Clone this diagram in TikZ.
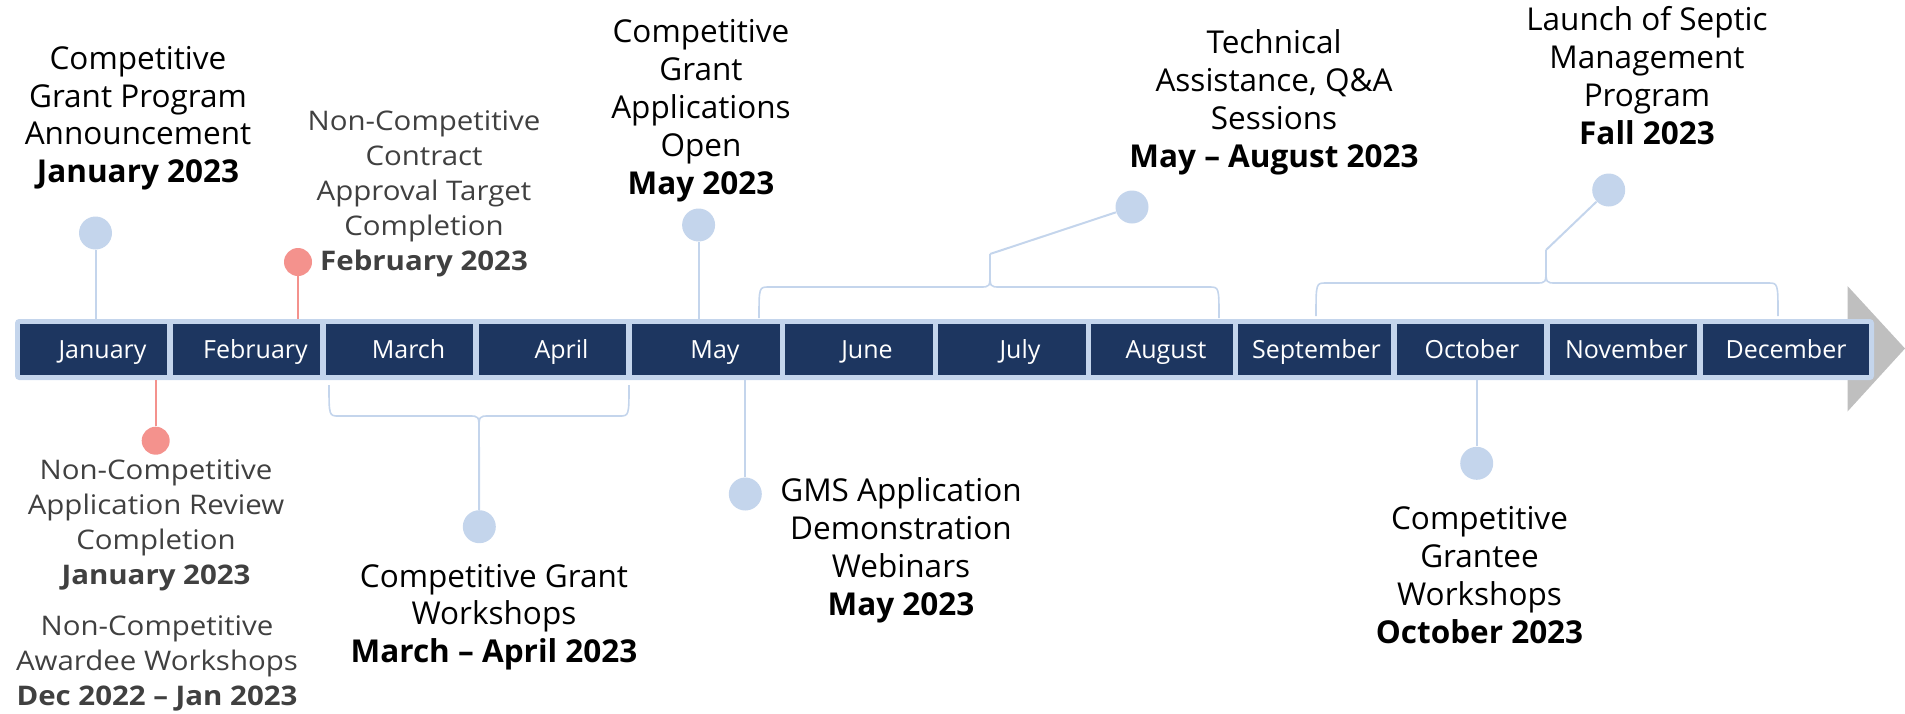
\documentclass[tikz,border=0pt]{standalone}
\usepackage{fontspec}
\setmainfont{Open Sans}
\newfontfamily\ncfont[FakeStretch=1.09]{Open Sans}
\definecolor{tlNavy}{HTML}{1D3660}
\definecolor{tlSky}{HTML}{C4D5EC}
\definecolor{tlCoral}{HTML}{F4928D}
\definecolor{tlGrey}{HTML}{BFBFBF}
\definecolor{tlInk}{HTML}{404040}
\usepackage{tikz}

\begin{document}
\begin{tikzpicture}[x=0.5pt, y=-0.5pt,
  month/.style={fill=tlNavy, text=white, inner sep=0pt, minimum height=25.5pt, text height=8.9pt, text depth=0pt, font=\fontsize{12.5}{15}\selectfont},
  evt/.style={align=center, anchor=base, inner sep=0pt, font=\fontsize{15.75}{18.9}\selectfont},
  ncevt/.style={evt, text=tlInk, font=\ncfont\fontsize{13.5}{17.5}\selectfont},
  dot/.style={circle, fill=tlSky, inner sep=0pt, minimum size=16.5pt},
  reddot/.style={dot, fill=tlCoral, minimum size=14pt},
  stem/.style={draw=tlSky, line width=1pt},
  redstem/.style={draw=tlCoral, line width=1pt},
  brace/.style={draw=tlSky, line width=0.8pt}]
\useasboundingbox (0,0) rectangle (1905,713);

% timeline bar
\fill[tlGrey] (1847.5,286) -- (1905,348.5) -- (1847.5,411.5) -- cycle;
\node[fill=tlSky, rounded corners=2pt, inner sep=0pt, minimum width=929.5pt, minimum height=30.5pt] (band) at (944.5,349.5) {};
\foreach \n/\m/\l/\r/\s in {jan/January/20/167/9, feb/February/173/320/9, mar/March/326/473/9, apr/April/479/626/9, may/May/632/780/9, jun/June/785/933/8, jul/July/938/1086/8, aug/August/1091/1233/4, sep/September/1238/1391/2, oct/October/1397/1544/1.5, nov/November/1550/1697/3, dec/December/1703/1869/0}
  \node[month, minimum width={(\r-\l)*0.5pt}] (\n) at ({(\l+\r)/2},349.5) {\hspace*{\s pt}\m};

% braces
\coordinate (ma-tip) at (479,447);
\coordinate (mayaug-tip) at (990,254);
\coordinate (fall-tip) at (1546,250);
\draw[brace] (759,318) .. controls (759,287) .. (769,287) -- (980,287) .. controls (990,287) .. (990,272) -- (mayaug-tip);
\draw[brace] (mayaug-tip) -- (990,272) .. controls (990,287) .. (1000,287) -- (1209,287) .. controls (1219,287) .. (1219,318);
\draw[brace] (1316,316) .. controls (1316,283) .. (1326,283) -- (1536,283) .. controls (1546,283) .. (1546,268) -- (fall-tip);
\draw[brace] (fall-tip) -- (1546,268) .. controls (1546,283) .. (1556,283) -- (1768,283) .. controls (1778,283) .. (1778,316);
\draw[brace] (329,385) .. controls (329,416) .. (339,416) -- (469,416) .. controls (479,416) .. (479,431) -- (ma-tip);
\draw[brace] (ma-tip) -- (479,431) .. controls (479,416) .. (489,416) -- (619,416) .. controls (629,416) .. (629,385);

% markers above
\node[dot] (annc-dot) at (95.5,233) {};
\node[reddot] (contract-dot) at (298,262) {};
\node[dot] (appopen-dot) at (698.6,225) {};
\node[dot] (techassist-dot) at (1132,207) {};
\node[dot] (launch-dot) at (1608.7,190) {};
\draw[stem] (annc-dot) -- (annc-dot |- band.north);
\draw[redstem] (contract-dot) -- (contract-dot |- band.north);
\draw[stem] (appopen-dot) -- (appopen-dot |- band.north);
\draw[stem] (techassist-dot) -- (mayaug-tip);
\draw[stem] (launch-dot) -- (fall-tip);

% markers below
\node[reddot] (review-dot) at (155.7,440.7) {};
\node[dot] (cgw-dot) at (479.3,526.7) {};
\node[dot] (gms-dot) at (745.3,494) {};
\node[dot] (grantee-dot) at (1476.7,463.3) {};
\draw[redstem] (review-dot) -- (review-dot |- band.south);
\draw[stem] (cgw-dot) -- (ma-tip);
\draw[stem] (gms-dot) -- (gms-dot |- band.south);
\draw[stem] (grantee-dot) -- (grantee-dot |- band.south);

% labels (anchored at last baseline)
\node[evt] (annc) at (138,182.7) {Competitive\\Grant Program\\Announcement\\\textbf{January 2023}};
\node[ncevt] (contract) at (424,270.7) {Non-Competitive\\Contract\\Approval Target\\Completion\\\textbf{February 2023}};
\node[evt] (appopen) at (701,194) {Competitive\\Grant\\Applications\\Open\\\textbf{May 2023}};
\node[evt] (techassist) at (1274,167) {Technical\\Assistance, Q\&A\\Sessions\\\textbf{May – August 2023}};
\node[evt] (launch) at (1647,144) {Launch of Septic\\Management\\Program\\\textbf{Fall 2023}};
\node[ncevt] (review) at (156,584) {Non-Competitive\\Application Review\\Completion\\\textbf{January 2023}};
\node[ncevt] (awardee) at (157,705) {Non-Competitive\\Awardee Workshops\\\textbf{Dec 2022 – Jan 2023}};
\node[evt] (cgw) at (494,662.7) {Competitive Grant\\Workshops\\\textbf{March – April 2023}};
\node[evt] (gms) at (901,615) {GMS Application\\Demonstration\\Webinars\\\textbf{May 2023}};
\node[evt] (grantee) at (1479.5,643.3) {Competitive\\Grantee\\Workshops\\\textbf{October 2023}};
\end{tikzpicture}
\end{document}
